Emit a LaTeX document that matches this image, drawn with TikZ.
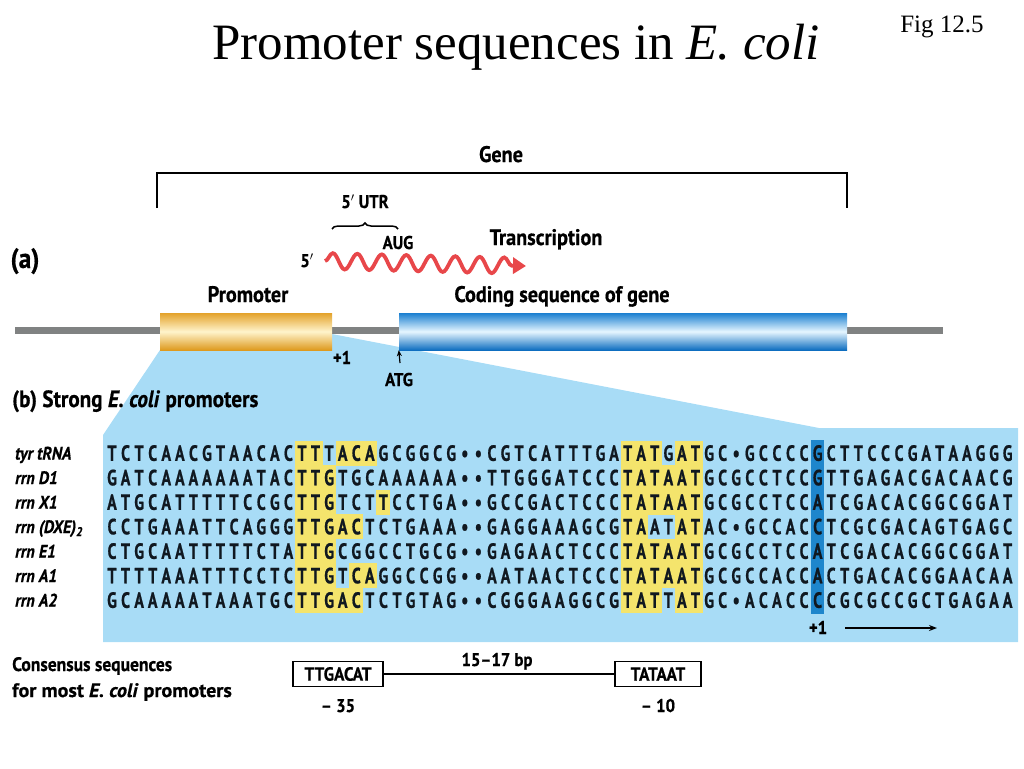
\documentclass[tikz,border=0pt]{standalone}
\usepackage{fontspec}
\setmainfont{Liberation Serif}
\newfontfamily\labf[FakeStretch=0.9, FakeBold=0.6]{PT Sans}
\newfontfamily\labw[FakeStretch=1.03, FakeBold=0.6]{PT Sans}
\newfontfamily\seqf[FakeStretch=0.72, FakeBold=0.8]{PT Sans}
\usetikzlibrary{decorations.pathmorphing,decorations.pathreplacing,arrows.meta,calc}
\definecolor{lblue}{HTML}{A8DCF6}
\definecolor{hyellow}{HTML}{F4E46C}
\definecolor{pblue}{HTML}{1E86CC}
\definecolor{wred}{HTML}{E8474A}
\definecolor{dgray}{HTML}{808282}
\definecolor{goldtop}{HTML}{E3A22A}
\definecolor{goldmid}{HTML}{FFF4CC}
\definecolor{goldbot}{HTML}{DE9A1E}
\definecolor{cbtop}{HTML}{1A7FD0}
\definecolor{cbmid}{HTML}{E6F6FF}
\definecolor{cbbot}{HTML}{0E6EC0}
\definecolor{seqink}{HTML}{101820}
\newcount\seqcol
\def\seqdot{.}
\makeatletter
\newcommand\seqrow[2]{\global\seqcol=0\relax
  \@tfor\seqc:=#2\do{\global\advance\seqcol by 1\relax
    \node[seqch] (s#1-\the\seqcol) at ({112+(\the\seqcol-1)*13.57},{453+(#1-1)*24.5+7.8}) {\ifx\seqc\seqdot\textbullet\else\seqc\fi};}}
\makeatother
\newcommand\hl[4][hyellow]{\fill[#1] ({112+(#3-1)*13.57-7.0},{453+(#2-1)*24.5-12.5}) rectangle ({112+(#3+#4-2)*13.57+7.0},{453+(#2-1)*24.5+12.5});}
\tikzset{
  seqch/.style={font=\seqf\bfseries\fontsize{22}{22}\selectfont, inner sep=0, text=seqink, anchor=base},
  lab/.style={font=\labf\bfseries\fontsize{22.5}{24}\selectfont, inner sep=0, anchor=base},
  slab/.style={font=\labf\bfseries\fontsize{18.5}{20}\selectfont, inner sep=0, anchor=base},
  rowlab/.style={font=\labf\bfseries\itshape\fontsize{18}{20}\selectfont, inner sep=0, anchor=base west},
  cbox/.style={draw, line width=1.6, font=\labf\bfseries\fontsize{19}{20}\selectfont, minimum height=25, inner sep=0},
}
\begin{document}
\begin{tikzpicture}[x=1pt,y=-1pt]
\useasboundingbox (0,0) rectangle (1024,768);
% title
\node[font=\fontsize{51}{55}\selectfont, inner sep=0] (title) at (516,47) {Promoter sequences in \textit{E. coli}};
\node[font=\fontsize{25}{28}\selectfont, inner sep=0] (fig) at (942,27) {Fig 12.5};
% zoom-out region
\fill[lblue] (160,350) -- (332,334) -- (819,428) -- (1018,428) -- (1018,642) -- (103,642) -- (103,435) -- cycle;
% DNA line
\coordinate (dnaL) at (15,330.5);
\coordinate (dnaR) at (943,330.5);
\draw[dgray, line width=7] (dnaL) -- (dnaR);
% cylinders
\node[inner sep=0, minimum width=172, minimum height=37, top color=goldtop, bottom color=goldbot, middle color=goldmid] (prom) at (246,331.5) {};
\node[inner sep=0, minimum width=448, minimum height=37, top color=cbtop, bottom color=cbbot, middle color=cbmid] (cds) at (623,331.5) {};
% gene bracket
\coordinate (gL) at (157,208);
\coordinate (gR) at (847,208);
\draw[line width=2] (gL) |- (847,173) -- (gR);
\node[lab] (gene) at (501,162) {Gene};
% 5' UTR
\node[slab] (utr) at (365,208) {5$'$ UTR};
\coordinate (brL) at (332,229);
\coordinate (brR) at (398,229);
\draw[line width=1.5, decorate, decoration={brace, amplitude=6}] (brL) -- (brR);
\node[slab] (aug) at (398,249) {AUG};
\node[slab] (five) at (307,267) {5$'$};
% transcript
\coordinate (wS) at (325,261);
\coordinate (wE) at (526,266);
\draw[wred, line width=3.8, decorate, decoration={snake, amplitude=8, segment length=24.5, post length=10}, -{Triangle[length=13,width=16]}] (wS) -- (wE);
\node[lab] (trans) at (546,245) {Transcription};
\node[font=\labf\bfseries\fontsize{28}{30}\selectfont, inner sep=0, anchor=base] (a) at (25,268) {(a)};
\node[lab] (promlab) at (248,302) {Promoter};
\node[lab] (cdslab) at (562,302) {Coding sequence of gene};
\node[slab] (plus1a) at (342,364) {+1};
\coordinate (atgt) at (400,363);
\draw[line width=1.2, -{Stealth[length=6,width=5]}] (atgt) -- (cds.south west);
\node[slab] (atg) at (399,386) {ATG};
\node[font=\labf\bfseries\fontsize{23.5}{25}\selectfont, inner sep=0, anchor=base west] (blab) at (12,407) {(b) Strong \textit{E. coli} promoters};
% highlights
\hl{1}{15}{2}\hl{1}{18}{3}
\hl{2}{15}{3}
\hl{3}{15}{3}\hl{3}{21}{1}
\hl{4}{15}{5}
\hl{5}{15}{3}
\hl{6}{15}{3}\hl{6}{19}{2}
\hl{7}{15}{5}
\hl{1}{39}{3}\hl{1}{43}{2}
\hl{2}{39}{6}
\hl{3}{39}{6}
\hl{4}{39}{2}\hl{4}{43}{2}
\hl{5}{39}{6}
\hl{6}{39}{6}
\hl{7}{39}{3}\hl{7}{43}{2}
\fill[pblue] ({112+52*13.57-6.5},440) rectangle ({112+52*13.57+6.5},614);
% row labels
\node[rowlab] (l1) at (15,459.5) {tyr tRNA};
\node[rowlab] (l2) at (15,484) {rrn D1};
\node[rowlab] (l3) at (15,508.5) {rrn X1};
\node[rowlab] (l4) at (15,533) {rrn (DXE)\textsubscript{2}};
\node[rowlab] (l5) at (15,557.5) {rrn E1};
\node[rowlab] (l6) at (15,582) {rrn A1};
\node[rowlab] (l7) at (15,606.5) {rrn A2};
% sequences
\seqrow{1}{TCTCAACGTAACACTTTACAGCGGCG..CGTCATTTGATATGATGC.GCCCCGCTTCCCGATAAGGG}
\seqrow{2}{GATCAAAAAAATACTTGTGCAAAAAA..TTGGGATCCCTATAATGCGCCTCCGTTGAGACGACAACG}
\seqrow{3}{ATGCATTTTTCCGCTTGTCTTCCTGA..GCCGACTCCCTATAATGCGCCTCCATCGACACGGCGGAT}
\seqrow{4}{CCTGAAATTCAGGGTTGACTCTGAAA..GAGGAAAGCGTAATATAC.GCCACCTCGCGACAGTGAGC}
\seqrow{5}{CTGCAATTTTTCTATTGCGGCCTGCG..GAGAACTCCCTATAATGCGCCTCCATCGACACGGCGGAT}
\seqrow{6}{TTTTAAATTTCCTCTTGTCAGGCCGG..AATAACTCCCTATAATGCGCCACCACTGACACGGAACAA}
\seqrow{7}{GCAAAAATAAATGCTTGACTCTGTAG..CGGGAAGGCGTATTATGC.ACACCCCGCGCCGCTGAGAA}
% +1 arrow
\node[slab] (plus1b) at (818,634) {+1};
\coordinate (arS) at (845,628);
\coordinate (arE) at (937,628);
\draw[line width=1.6, -{Stealth[length=8,width=6]}] (arS) -- (arE);
% consensus
\node[font=\labf\bfseries\fontsize{19.5}{21}\selectfont, inner sep=0, anchor=base west] (cons1) at (12,671) {Consensus sequences};
\node[font=\labw\bfseries\fontsize{19.5}{21}\selectfont, inner sep=0, anchor=base west] (cons2) at (12,697) {for most \textit{E. coli} promoters};
\node[cbox, minimum width=90] (box35) at (338,674) {TTGACAT};
\node[cbox, minimum width=86] (box10) at (658,674) {TATAAT};
\draw[line width=1.4] (box35) -- (box10);
\node[slab] (bp) at (497,666) {15–17 bp};
\node[slab] (m35) at (338,712) {– 35};
\node[slab] (m10) at (658,712) {– 10};
\end{tikzpicture}
\end{document}
